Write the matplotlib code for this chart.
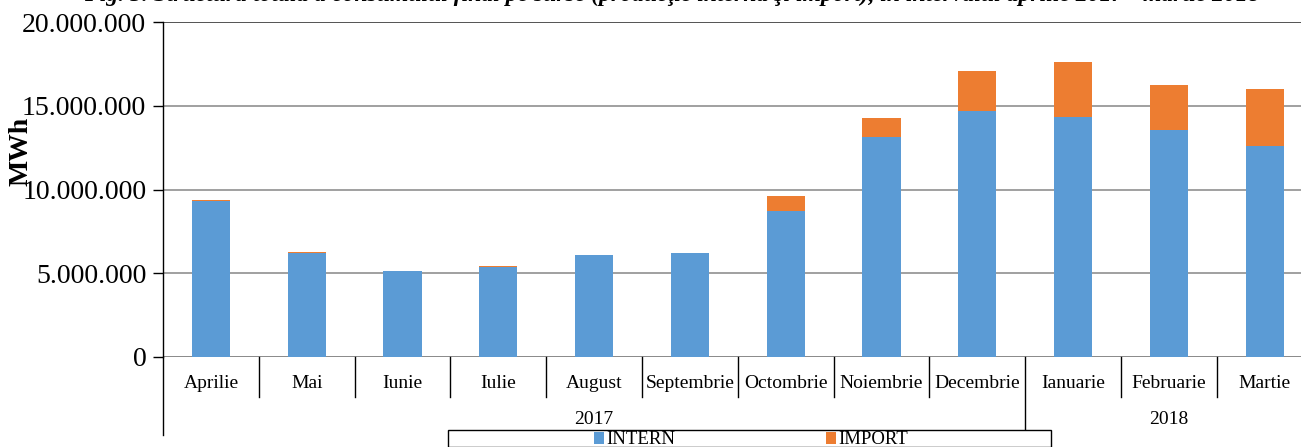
import matplotlib.pyplot as plt
from matplotlib.patches import Rectangle
from matplotlib.ticker import FuncFormatter

plt.rcParams['font.family'] = ['Liberation Serif', 'DejaVu Serif']

# data (MWh)
months = ['Aprilie', 'Mai', 'Iunie', 'Iulie', 'August', 'Septembrie', 'Octombrie',
          'Noiembrie', 'Decembrie', 'Ianuarie', 'Februarie', 'Martie']
years = ['2017', '2018']
year_spans = [(0, 8), (9, 11)]
intern = [9330000, 6200000, 5120000, 5400000, 6070000, 6200000, 8700000,
          13110000, 14660000, 14310000, 13530000, 12580000]
imp = [70000, 70000, 30000, 30000, 20000, 20000, 910000,
       1180000, 2390000, 3280000, 2730000, 3400000]

blue = '#5B9BD5'
orange = '#ED7D31'

W, H = 1301, 447
fig = plt.figure(figsize=(W / 100, H / 100), dpi=100)
ax = fig.add_axes([163 / W, (H - 357) / H, (1312.6 - 163) / W, (357 - 22) / H])

x = range(len(months))
b1 = ax.bar(x, intern, width=0.4, color=blue, label='INTERN', zorder=3)
b2 = ax.bar(x, imp, width=0.4, bottom=intern, color=orange, label='IMPORT', zorder=3)

ax.set_xlim(-0.5, len(months) - 0.5)
ax.set_ylim(0, 20000000)
ax.set_yticks(range(0, 20000001, 5000000))
ax.yaxis.set_major_formatter(FuncFormatter(lambda v, p: f'{int(v):,}'.replace(',', '.')))
ax.tick_params(axis='y', labelsize=20, length=7, width=1, direction='out', pad=5)
ax.grid(axis='y', color='#868686', linewidth=1.1, zorder=0)

for s in ['top', 'right', 'bottom']:
    ax.spines[s].set_visible(False)
ax.spines['left'].set_bounds(0, 20000000)
ax.spines['left'].set_linewidth(1)
ax.axhline(0, color='#868686', linewidth=1.1, zorder=2)
ax.axhline(20000000, color='#555555', linewidth=1.4, zorder=2)

# category axis drawn by hand: month labels, separators, years
ax.set_xticks([])
trans = ax.get_xaxis_transform()
px = 1 / 335.0
for i in range(len(months)):
    depth = 40
    if i == 0:
        depth = 78
    elif i == 9:
        depth = 72
    ax.plot([i - 0.5, i - 0.5], [0, -depth * px], color='black', lw=1,
            transform=trans, clip_on=False)
for i, m in enumerate(months):
    ax.text(i, -26 * px, m, transform=trans, ha='center', va='center', fontsize=14)
for y, (a, b) in zip(years, year_spans):
    ax.text((a + b) / 2, -63 * px, y, transform=trans, ha='center', va='center',
            fontsize=14)

fig.text(21 / W, 1 - 151 / H, 'MWh', rotation=90, ha='center', va='center',
         fontsize=20, fontweight='bold')

# title, cut off at the top edge as in the source
fig.text(672 / W, 1 - 1 / H,
         'Fig. 5. Structura totală a consumului final pe surse (producţie internă şi import), '
         'în intervalul aprilie 2017 - martie 2018',
         ha='center', va='baseline', fontsize=17, fontweight='bold', style='italic')

# legend box
fig.patches.append(Rectangle((448 / W, 0), (1051 - 448) / W, (H - 430) / H,
                             transform=fig.transFigure, fill=False,
                             edgecolor='black', linewidth=1))
fig.legend(handles=[b1, b2], loc='center', bbox_to_anchor=(751 / W, 1 - 440 / H),
           ncol=2, frameon=False, fontsize=13.5, handlelength=0.55, handleheight=0.6,
           handletextpad=0.15, columnspacing=8.0, borderpad=0)

fig.savefig('out.png', dpi=100)
